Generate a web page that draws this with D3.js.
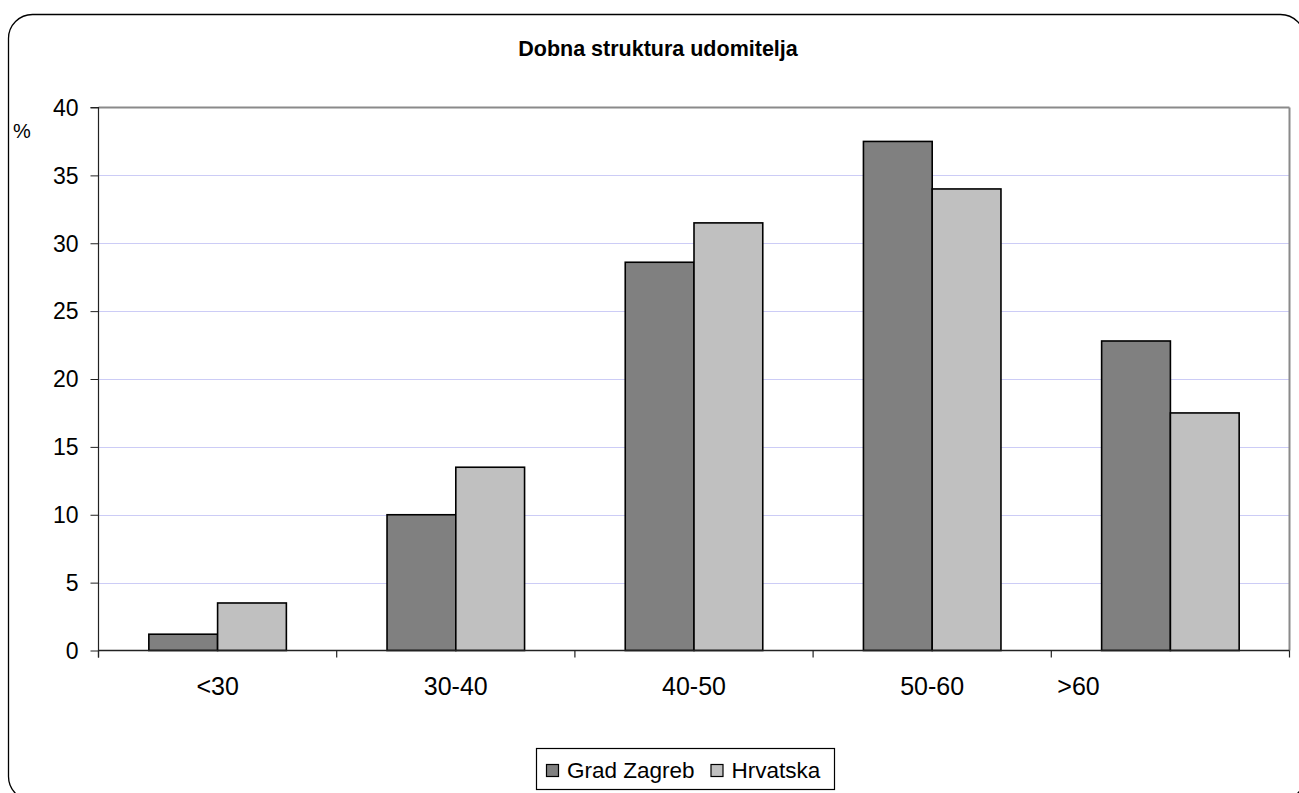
<!DOCTYPE html>
<html>
<head>
<meta charset="utf-8">
<script src="https://cdn.jsdelivr.net/npm/d3@7/dist/d3.min.js"></script>
<style>
  html, body { margin: 0; padding: 0; background: #fff; }
  svg { display: block; font-family: "Liberation Sans", Arial, sans-serif; }
</style>
</head>
<body>
<svg id="chart" width="1299" height="793"></svg>
<script>
const title = "Dobna struktura udomitelja";
const categories = ["<30", "30-40", "40-50", "50-60", ">60"];
const seriesNames = ["Grad Zagreb", "Hrvatska"];
const gradZagreb = [1.2, 10.0, 28.6, 37.5, 22.8];
const hrvatska = [3.5, 13.5, 31.5, 34.0, 17.5];
const yTicks = [0, 5, 10, 15, 20, 25, 30, 35, 40];
const seriesColors = ["#808080", "#c0c0c0"];

const svg = d3.select("#chart");
const margin = { left: 98.5, right: 1289.5, top: 107.5, bottom: 650.5 };

// outer rounded frame
svg.append("rect")
  .attr("x", 8.5).attr("y", 14.5)
  .attr("width", 1296).attr("height", 786)
  .attr("rx", 24).attr("ry", 24)
  .attr("fill", "#fff").attr("stroke", "#000").attr("stroke-width", 1.3);

// title
svg.append("text")
  .attr("x", 658).attr("y", 56)
  .attr("text-anchor", "middle")
  .attr("font-weight", "bold")
  .attr("font-size", "21.5px")
  .text(title);

const x = d3.scaleBand().domain(categories)
  .range([margin.left, margin.right]).paddingInner(0).paddingOuter(0);
// outer padding chosen so the pair of bars fills ~58% of each category
const xInner = d3.scaleBand().domain(seriesNames)
  .range([0, x.bandwidth()]).paddingInner(0).paddingOuter(0.732);

const y = d3.scaleLinear().domain([0, 40]).range([margin.bottom, margin.top]);

// gridlines
svg.append("g").selectAll("line")
  .data(yTicks.filter(d => d > 0 && d < 40))
  .join("line")
  .attr("x1", margin.left).attr("x2", margin.right)
  .attr("y1", d => Math.round(y(d)) + 0.5).attr("y2", d => Math.round(y(d)) + 0.5)
  .attr("stroke", "#ccccf6").attr("stroke-width", 1.2);

// plot area top & right borders (gray)
svg.append("line")
  .attr("x1", margin.left).attr("x2", margin.right)
  .attr("y1", y(40)).attr("y2", y(40))
  .attr("stroke", "#8a8a8a").attr("stroke-width", 2);
svg.append("line")
  .attr("x1", margin.right).attr("x2", margin.right)
  .attr("y1", y(40)).attr("y2", y(0))
  .attr("stroke", "#8a8a8a").attr("stroke-width", 2);

// bars
const data = categories.map((c, i) => ({ cat: c, values: [gradZagreb[i], hrvatska[i]] }));
const groups = svg.append("g").selectAll("g")
  .data(data).join("g")
  .attr("transform", d => `translate(${x(d.cat)},0)`);
groups.selectAll("rect")
  .data(d => d.values.map((v, j) => ({ name: seriesNames[j], v, j })))
  .join("rect")
  .attr("x", d => xInner(d.name))
  .attr("width", xInner.bandwidth())
  .attr("y", d => y(d.v))
  .attr("height", d => y(0) - y(d.v))
  .attr("fill", d => seriesColors[d.j])
  .attr("stroke", "#000").attr("stroke-width", 1.6);

// y axis
const yAxis = d3.axisLeft(y).tickValues(yTicks).tickSize(8).tickPadding(12).tickFormat(d3.format("d"));
const gy = svg.append("g").attr("transform", `translate(${margin.left},0)`).call(yAxis);
gy.select(".domain").attr("stroke", "#222").attr("stroke-width", 1.2)
  .attr("d", `M-8,${y(40)}H0V${y(0) + 7}`);
gy.selectAll(".tick line").attr("stroke", "#222");
gy.selectAll(".tick text").attr("font-size", "23px").attr("fill", "#000")
  .attr("font-family", "Liberation Sans, Arial, sans-serif")
  .attr("dy", "0.34em");

// x axis: domain and ticks at category boundaries
const boundaries = categories.map(c => x(c)).concat([x(categories[categories.length - 1]) + x.bandwidth()]);
svg.append("line")
  .attr("x1", margin.left).attr("x2", margin.right)
  .attr("y1", y(0)).attr("y2", y(0))
  .attr("stroke", "#222").attr("stroke-width", 1.4);
svg.append("g").selectAll("line")
  .data(boundaries).join("line")
  .attr("x1", d => d).attr("x2", d => d)
  .attr("y1", y(0)).attr("y2", y(0) + 7)
  .attr("stroke", "#222").attr("stroke-width", 1.2);

// x labels
svg.append("g").selectAll("text")
  .data(categories).join("text")
  .attr("x", (d, i) => i === categories.length - 1 ? x(d) + 6 : x(d) + x.bandwidth() / 2)
  .attr("y", y(0) + 44)
  .attr("text-anchor", (d, i) => i === categories.length - 1 ? "start" : "middle")
  .attr("font-size", "25px")
  .text(d => d);

// % unit label
svg.append("text")
  .attr("x", 13).attr("y", 138)
  .attr("font-size", "20px")
  .text("%");

// legend
const lg = svg.append("g");
lg.append("rect")
  .attr("x", 536.5).attr("y", 748.5).attr("width", 298).attr("height", 41)
  .attr("fill", "#fff").attr("stroke", "#000").attr("stroke-width", 1.2);
const legendX = [546, 710.5];
seriesNames.forEach((name, i) => {
  lg.append("rect")
    .attr("x", legendX[i] + 0.5).attr("y", 764.5).attr("width", 12).attr("height", 12)
    .attr("fill", seriesColors[i]).attr("stroke", "#000").attr("stroke-width", 1.2);
  lg.append("text")
    .attr("x", legendX[i] + 21).attr("y", 778)
    .attr("font-size", "22.5px")
    .text(name);
});
</script>
</body>
</html>
